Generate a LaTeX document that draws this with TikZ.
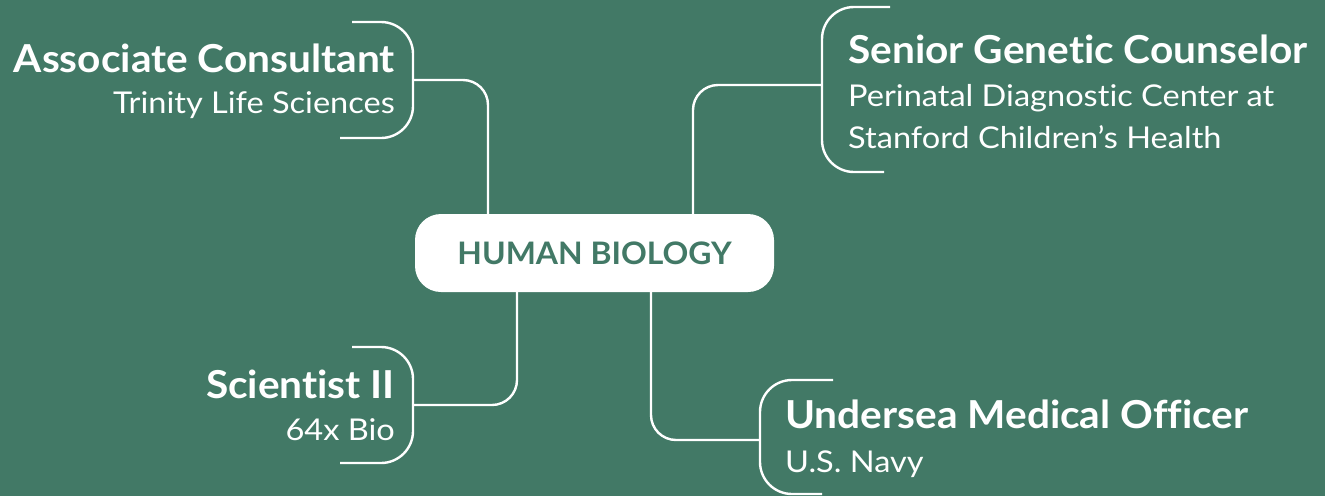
\documentclass[tikz,border=0pt]{standalone}
\usepackage{fontspec}
\setmainfont{Lato}[RawFeature=-liga]
\newfontfamily\titlefont{Lato}[FakeStretch=1.055, RawFeature=-liga]
\newfontfamily\subfont{Lato}[FakeStretch=1.085, RawFeature=-liga]
\newfontfamily\hubfont{Lato}[FakeStretch=1.03, RawFeature=-liga]
\definecolor{bggreen}{RGB}{66,121,102}
\tikzset{
  conn/.style={draw=white, line width=2.4pt, rounded corners=25pt},
  bracket/.style={draw=white, line width=2.4pt, rounded corners=32pt},
  title/.style={text=white, font=\titlefont\fontsize{38.5}{42}\selectfont\bfseries, inner sep=0pt},
  sub/.style={text=white, font=\subfont\fontsize{30}{34}\selectfont, inner sep=0pt},
  hub/.style={fill=white, rounded corners=26pt, minimum width=359pt, minimum height=78pt, inner sep=0pt,
    text=bggreen, font=\hubfont\fontsize{31}{35}\selectfont\bfseries}
}
\begin{document}
\begin{tikzpicture}[x=1pt,y=-1pt]
\fill[bggreen] (0,0) rectangle (1325,496);
\useasboundingbox (0,0) rectangle (1325,496);

% hub
\node[hub] (hub) at (594.5,253) {HUMAN BIOLOGY};

% bracket coordinates
\coordinate (a1) at (352,22);  \coordinate (a2) at (413,22);  \coordinate (a3) at (413,138); \coordinate (a4) at (340,138);
\coordinate (am) at (413,80);  \coordinate (ax) at (488,0);
\coordinate (b1) at (890,7);   \coordinate (b2) at (822,7);   \coordinate (b3) at (822,172); \coordinate (b4) at (884,172);
\coordinate (bm) at (822,85);  \coordinate (bx) at (693,0);
\coordinate (c1) at (352,347); \coordinate (c2) at (413,347); \coordinate (c3) at (413,463); \coordinate (c4) at (340,463);
\coordinate (cm) at (413,405); \coordinate (cx) at (517,0);
\coordinate (d1) at (833,380); \coordinate (d2) at (760,380); \coordinate (d3) at (760,494); \coordinate (d4) at (822,494);
\coordinate (dm) at (760,440); \coordinate (dx) at (651,0);

% brackets
\draw[bracket] (a1) -- (a2) -- (a3) -- (a4);
\draw[bracket] (b1) -- (b2) -- (b3) -- (b4);
\draw[bracket] (c1) -- (c2) -- (c3) -- (c4);
\draw[bracket] (d1) -- (d2) -- (d3) -- (d4);

% connectors
\draw[conn] (hub.north -| ax) |- (am);
\draw[conn] (hub.north -| bx) |- (bm);
\draw[conn] (hub.south -| cx) |- (cm);
\draw[conn] (hub.south -| dx) |- (dm);

% texts
\node[title, anchor=base east] (t1) at (395,72) {Associate Consultant};
\node[sub, anchor=base east] (s1) at (395,113) {Trinity Life Sciences};

\node[title, anchor=base west] (t2) at (848,63) {Senior Genetic Counselor};
\node[sub, anchor=base west] (s2) at (848,106) {Perinatal Diagnostic Center at};
\node[sub, anchor=base west] (s2b) at (848,148) {Stanford Children’s Health};

\node[title, anchor=base east] (t3) at (395,398) {Scientist II};
\node[sub, anchor=base east] (s3) at (395,440) {64x Bio};

\node[title, anchor=base west] (t4) at (785,428) {Undersea Medical Officer};
\node[sub, anchor=base west] (s4) at (785,472) {U.S. Navy};
\end{tikzpicture}
\end{document}
